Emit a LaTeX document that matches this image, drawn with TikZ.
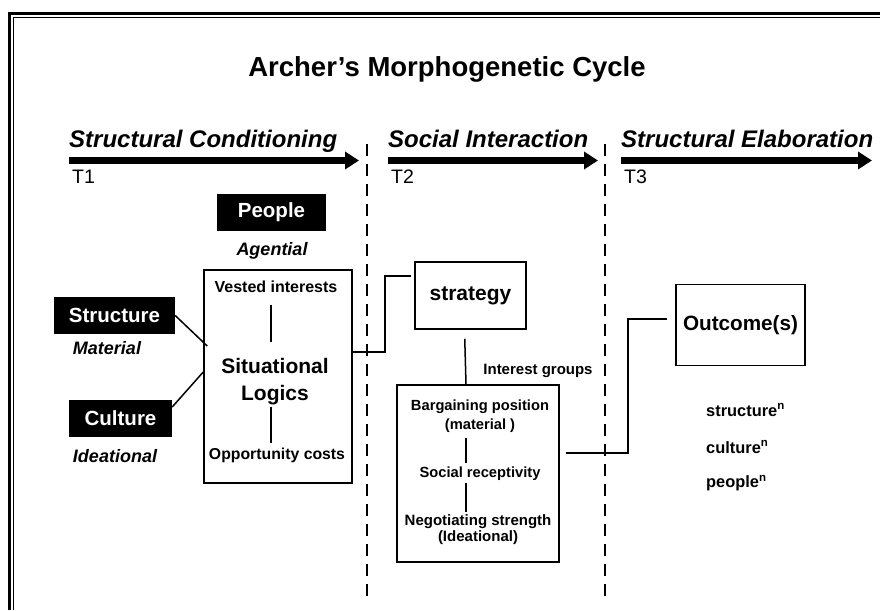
\documentclass[tikz,border=0pt]{standalone}
\usepackage{fontspec}
\setmainfont{Liberation Sans}
\usetikzlibrary{arrows.meta,calc}
\newcommand\fsz[2]{\fontsize{#1}{#2}\selectfont}

\begin{document}
\begin{tikzpicture}[x=1pt,y=-1pt,
    blackbox/.style={fill=black,text=white,inner sep=0pt,minimum height=37pt,font=\fsz{20.5}{24}\bfseries},
    lbl/.style={inner sep=1pt,font=\fsz{18}{21}\bfseries\itshape},
    txt/.style={inner sep=1pt,align=center,font=\fsz{15}{19}\bfseries},
    big/.style={inner sep=1pt,align=center,font=\fsz{21}{27}\bfseries},
    frame/.style={draw,line width=1.5pt,inner sep=0pt},
    phase/.style={anchor=base west,inner sep=0pt,font=\fsz{24}{28}\bfseries\itshape},
    tick/.style={anchor=base west,inner sep=0pt,font=\fsz{19.5}{22}},
    timeline/.style={line width=6.5pt,-{Triangle[length=14pt,width=17pt]}},
    period/.style={line width=2pt,dash pattern=on 12pt off 8pt},
    link/.style={line width=1.5pt}]
			%%%%% START %%%%%
			\def\yarr{160.5}
			\def\ytop{144}
			\def\ybot{598}
			\def\xdone{367}
			\def\xdtwo{605}
			
			\useasboundingbox (0,0) rectangle (880,610);
			
			% border
			\draw[line width=2.8pt] (9.4,610) -- (9.4,13.4) -- (880,13.4);
			\draw[line width=1pt] (13,610) -- (13,17.3) -- (880,17.3);
			
			\node[inner sep=0pt,anchor=base,font=\fsz{27.5}{32}\bfseries] (title) at (447,76) {Archer’s Morphogenetic Cycle};
			
			% time line
			\node[phase] (condit) at (69,147) {Structural Conditioning};
			\node[phase] (interact) at (388,147) {Social Interaction};
			\node[phase] (elabor) at (621,147) {Structural Elaboration};
			\node[tick] (tone) at (72,183) {T1};
			\node[tick] (ttwo) at (391,183) {T2};
			\node[tick] (tthree) at (624,183) {T3};
			\coordinate (aone) at (69,\yarr);
			\coordinate (atwo) at (388,\yarr);
			\coordinate (athree) at (621,\yarr);
			\draw[timeline] (aone) -- ++(290,0);
			\draw[timeline] (atwo) -- ++(210,0);
			\draw[timeline] (athree) -- ++(251,0);
			\draw[period] (\xdone,\ytop) -- (\xdone,\ybot);
			\draw[period] (\xdtwo,\ytop) -- (\xdtwo,\ybot);
			
			% structural conditioning
			\node[blackbox,minimum width=109pt] (people) at (271.5,212.5) {People};
			\node[lbl] (agential) at (272,251) {Agential};
			\node[blackbox,minimum width=121pt] (struct) at (114.5,315.5) {Structure};
			\node[lbl] (material) at (107,348) {Material};
			\node[blackbox,minimum width=103pt] (cult) at (120.5,418.5) {Culture};
			\node[lbl] (ideational) at (115,456) {Ideational};
			
			\node[frame,minimum width=148pt,minimum height=213pt] (sitlog) at (278,376.5) {};
			\node[txt,font=\fsz{16}{19}\bfseries] (vested) at (276,287) {Vested interests};
			\node[big] (logics) at (275,381.5) {Situational\\Logics};
			\node[txt,font=\fsz{15.8}{19}\bfseries] (oppcost) at (277,455) {Opportunity costs};
			\draw[link,shorten <=11pt,shorten >=15pt] ([xshift=-5pt]vested.south) -- ([xshift=-4pt]logics.north);
			\draw[link,shorten <=1pt,shorten >=3.5pt] ([xshift=-4pt]logics.south) -- ([xshift=-6pt]oppcost.north);
			\draw[link] (struct.east) -- ([xshift=4pt,yshift=30.5pt]sitlog.west);
			\draw[link] ([yshift=11.5pt]cult.east) -- ([yshift=4.5pt]sitlog.west);
			
			% social interaction
			\node[frame,minimum width=111pt,minimum height=67pt,font=\fsz{21}{24}\bfseries] (strat) at (470.5,295.5) {strategy};
			\node[txt] (igroups) at (538,371) {Interest groups};
			\node[frame,minimum width=162pt,minimum height=177pt] (bargain) at (478,473.5) {};
			\node[txt,font=\fsz{14.7}{19}\bfseries] (barpos) at (480,416.5) {Bargaining position\\(material )};
			\node[txt,font=\fsz{14.7}{19}\bfseries] (recept) at (480,474) {Social receptivity};
			\node[txt,font=\fsz{15}{16}\bfseries] (negot) at (478,529.5) {Negotiating strength\\(Ideational)};
			\draw[link,shorten <=4pt,shorten >=3pt] ([xshift=-14pt]barpos.south) -- ([xshift=-14pt]recept.north);
			\draw[link,shorten <=1pt,shorten >=1.5pt] ([xshift=-14pt]recept.south) -- ([xshift=-12pt]negot.north);
			\draw[link,shorten <=9pt] ([xshift=-6pt]strat.south) -- ([xshift=-12pt]bargain.north);
			\draw[link] ([yshift=24.5pt]sitlog.east) -- ++(32,0) |- ([xshift=-3pt,yshift=19.5pt]strat.west);
			
			% structural elaboration
			\node[frame,minimum width=129pt,minimum height=81pt,font=\fsz{20.7}{24}\bfseries] (outcome) at (740.5,325) {Outcome(s)};
			\draw[link] ([xshift=6pt,yshift=20.5pt]bargain.east) -- ++(62,0) |- ([xshift=-8pt,yshift=6pt]outcome.west);
			\node[txt,anchor=west,font=\fsz{16.4}{19}\bfseries] (nstruct) at (705,410) {structure\textsuperscript{n}};
			\node[txt,anchor=west,font=\fsz{16.4}{19}\bfseries] (ncult) at (705,447) {culture\textsuperscript{n}};
			\node[txt,anchor=west,font=\fsz{16.4}{19}\bfseries] (npeople) at (705,483) {people\textsuperscript{n}};
			%%%%% END %%%%%
		\end{tikzpicture}
\end{document}
